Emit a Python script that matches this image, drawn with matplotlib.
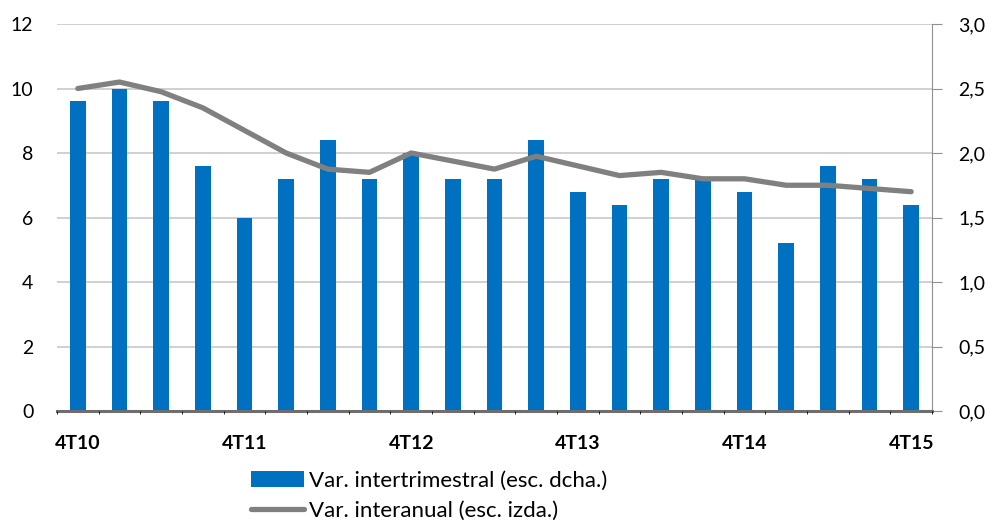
import matplotlib.pyplot as plt
from matplotlib.ticker import FuncFormatter

quarters = ["4T10", "1T11", "2T11", "3T11", "4T11", "1T12", "2T12", "3T12", "4T12",
            "1T13", "2T13", "3T13", "4T13", "1T14", "2T14", "3T14", "4T14",
            "1T15", "2T15", "3T15", "4T15"]
label_quarters = ["4T10", "4T11", "4T12", "4T13", "4T14", "4T15"]

# right scale (esc. dcha.)
intertrimestral = [2.4, 2.5, 2.4, 1.9, 1.5, 1.8, 2.1, 1.8, 2.0, 1.8, 1.8,
                   2.1, 1.7, 1.6, 1.8, 1.8, 1.7, 1.3, 1.9, 1.8, 1.6]
# left scale (esc. izda.)
interanual = [10.0, 10.2, 9.9, 9.4, 8.7, 8.0, 7.5, 7.4, 8.0, 7.75, 7.5,
              7.9, 7.6, 7.3, 7.4, 7.2, 7.2, 7.0, 7.0, 6.9, 6.8]

plt.rcParams["font.family"] = ["Lato", "DejaVu Sans"]

fig = plt.figure(figsize=(9.94, 5.25), dpi=100)
ax = fig.add_axes([57 / 994, 114 / 525, 875 / 994, 387 / 525])
ax2 = ax.twinx()

x = list(range(len(quarters)))
bars = ax2.bar(x, intertrimestral, width=0.38, color="#0070C0", zorder=2,
               label="Var. intertrimestral (esc. dcha.)")
line, = ax.plot(x, interanual, color="#808080", lw=3.8, solid_capstyle="round",
                solid_joinstyle="round", label="Var. interanual (esc. izda.)")

ax.set_zorder(ax2.get_zorder() + 1)
ax.patch.set_visible(False)

ax.set_xlim(-0.5, len(quarters) - 0.5)
ax.set_ylim(0, 12)
ax.set_yticks(range(0, 13, 2))
ax2.set_ylim(0, 3)
ax2.set_yticks([i * 0.5 for i in range(7)])
ax2.yaxis.set_major_formatter(FuncFormatter(lambda v, p: f"{v:.1f}".replace(".", ",")))

ax2.yaxis.grid(True, color="#c8c8c8", lw=1.2, zorder=0)
ax2.set_axisbelow(True)

for s in ["top", "left", "right", "bottom"]:
    ax.spines[s].set_visible(False)
for s in ["top", "left"]:
    ax2.spines[s].set_visible(False)
ax2.spines["right"].set_color("#909090")
ax2.spines["bottom"].set_color("#6e6e6e")
ax2.spines["bottom"].set_linewidth(2.2)

ax.tick_params(axis="y", length=0, labelsize=14, pad=17)
ax2.tick_params(axis="y", length=7, color="#909090", labelsize=14, pad=12)

# category boundary ticks
ax2.set_xticks([i - 0.5 for i in range(len(quarters) + 1)], minor=True)
ax2.tick_params(axis="x", which="minor", direction="in", length=7, width=1.3, color="#6e6e6e")
ax.set_xticks([quarters.index(q) for q in label_quarters])
ax.set_xticklabels(label_quarters, fontweight="bold", fontsize=14)
ax.tick_params(axis="x", length=0, pad=17)
ax2.tick_params(axis="x", which="major", length=0, labelbottom=False)

fig.legend([bars, line], [bars.get_label(), line.get_label()], loc="upper left",
           bbox_to_anchor=(242 / 994, 1 - 462 / 525), frameon=False, fontsize=16,
           handlelength=2.4, handletextpad=0.23, labelspacing=0.45, borderaxespad=0)

fig.savefig("out.png", dpi=100)
